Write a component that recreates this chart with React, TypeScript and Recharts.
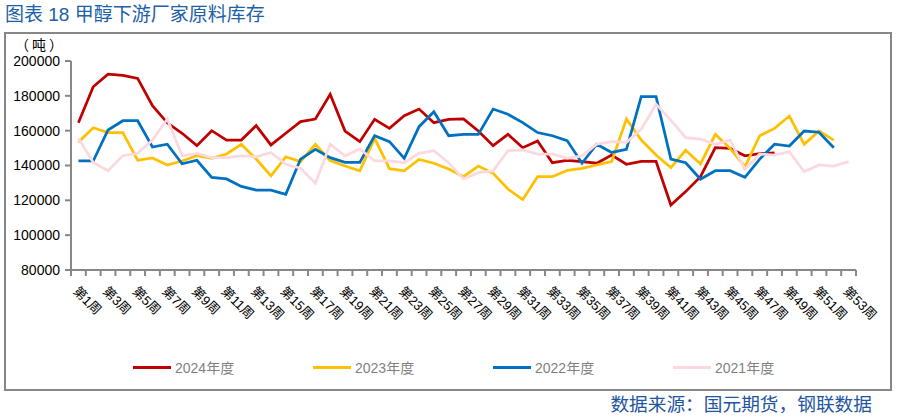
import React from "react";
import { LineChart, Line, XAxis, YAxis } from "recharts";

const weeks = Array.from({ length: 53 }, (_, i) => `第${i + 1}周`);

const inv2024 = [
  164500, 185200, 192400, 191800, 190000, 174300, 164500, 158500, 151400, 160000,
  154600, 154600, 162900, 151800, 158500, 165200, 166700, 180900, 159800, 153700,
  166500, 161300, 168600, 172400, 164600, 166500, 166700, 159800, 151400, 157900,
  150200, 154100, 141600, 143000, 142200, 141300, 146000, 140700, 142400, 142400,
  117300, 125000, 133600, 150200, 149800, 145600, 146800, 147200,
];

const inv2023 = [
  153300, 161700, 158900, 158900, 143000, 144300, 140300, 142600, 145600, 144100,
  146600, 152200, 143700, 134100, 145000, 142200, 152200, 142800, 139700, 137000,
  155600, 138200, 136900, 143500, 141300, 138000, 133600, 139700, 135500, 126500,
  120400, 133600, 133600, 137200, 138400, 140300, 142200, 166700, 154600, 146000,
  138800, 148700, 140900, 157900, 149800, 139300, 157100, 161300, 168400, 152200,
  159800, 154600,
];

const inv2022 = [
  142600, 142600, 160400, 165700, 165700, 150600, 152200, 141000, 143000, 133200,
  132300, 128000, 125900, 125900, 123500, 143700, 149300, 144500, 141800, 141800,
  157100, 153700, 144100, 162300, 170900, 157100, 157900, 157900, 172400, 169400,
  164600, 158900, 157100, 154300, 141300, 152200, 147500, 149300, 179500, 179500,
  143700, 141600, 132100, 137000, 137000, 133200, 143700, 152200, 151200, 159800,
  159100, 150200,
];

const inv2021 = [
  155600, 141800, 137000, 145600, 147000, 154600, 166700, 145600, 147000, 144500,
  144500, 145500, 145000, 147500, 140700, 138400, 129800, 152200, 145500, 149500,
  142600, 142600, 141600, 147000, 148500, 141600, 132300, 135900, 136900, 148500,
  148900, 146600, 146600, 144100, 145500, 152200, 153700, 153300, 160900, 175100,
  166100, 156000, 155100, 152200, 154600, 137800, 146600, 146000, 147900, 136400,
  140300, 139700, 142200,
];

const yTicks = [80000, 100000, 120000, 140000, 160000, 180000, 200000];

const series = [
  { key: "y2024", name: "2024年度", color: "#C00000" },
  { key: "y2023", name: "2023年度", color: "#FFC000" },
  { key: "y2022", name: "2022年度", color: "#0070C0" },
  { key: "y2021", name: "2021年度", color: "#FBD9DE" },
];

const rows = weeks.map((w, i) => ({
  idx: i + 1,
  week: w,
  y2024: inv2024[i] ?? null,
  y2023: inv2023[i] ?? null,
  y2022: inv2022[i] ?? null,
  y2021: inv2021[i] ?? null,
}));

// tick marks sit between weeks, labels on every other week
const boundaries = Array.from({ length: weeks.length + 1 }, (_, i) => i + 0.5);

const W = 898;
const H = 418;
const MARGIN = { top: 61, right: 42, left: 0, bottom: 88 };
const Y_AXIS_W = 71;
const PLOT_W = W - MARGIN.left - MARGIN.right - Y_AXIS_W;
const HALF_BAND = PLOT_W / weeks.length / 2;

const axisGray = "#878787";
const font = "'Liberation Sans', 'Noto Sans CJK SC', sans-serif";
const cjkFont = "'Noto Sans CJK SC', 'Liberation Sans', sans-serif";

function WeekTick(props: any) {
  const { x, payload } = props;
  const n = Math.round(payload.value + 0.5);
  if (n > weeks.length || n % 2 === 0) return null;
  const cx = x + HALF_BAND - 6;
  const cy = 292;
  return (
    <text
      x={cx}
      y={cy}
      transform={`rotate(45 ${cx} ${cy})`}
      textAnchor="start"
      fontSize={13}
      fontFamily={font}
      fill="#000"
    >
      {weeks[n - 1]}
    </text>
  );
}

export default function App() {
  return (
    <div
      style={{
        position: "absolute",
        left: 0,
        top: 0,
        width: W,
        height: H,
        background: "#fff",
        fontFamily: font,
      }}
    >
      <div
        style={{
          position: "absolute",
          left: 5,
          top: 3,
          fontSize: 19,
          lineHeight: "24px",
          color: "#2060A8",
          whiteSpace: "nowrap",
        }}
      >
        图表 18 甲醇下游厂家原料库存
      </div>

      <div
        style={{
          position: "absolute",
          left: 4,
          top: 32,
          width: 888,
          height: 359,
          border: `2px solid ${axisGray}`,
          boxSizing: "border-box",
        }}
      />

      <div
        style={{
          position: "absolute",
          left: 15,
          top: 36,
          fontSize: 14,
          lineHeight: "16px",
          letterSpacing: 3,
          color: "#000",
          fontFamily: cjkFont,
          whiteSpace: "nowrap",
        }}
      >
        （吨）
      </div>

      <div style={{ position: "absolute", left: 0, top: 0 }}>
        <LineChart width={W} height={H} data={rows} margin={MARGIN}>
          <XAxis
            dataKey="idx"
            type="number"
            domain={[0.5, weeks.length + 0.5]}
            ticks={boundaries}
            interval={0}
            height={60}
            axisLine={{ stroke: axisGray, strokeWidth: 2 }}
            tickLine={{ stroke: axisGray, strokeWidth: 2 }}
            tickSize={6}
            tick={<WeekTick />}
            allowDataOverflow
          />
          <YAxis
            type="number"
            domain={[80000, 200000]}
            ticks={yTicks}
            interval={0}
            width={Y_AXIS_W}
            axisLine={{ stroke: axisGray, strokeWidth: 2 }}
            tickLine={{ stroke: axisGray, strokeWidth: 2 }}
            tickSize={6}
            tickMargin={5}
            tick={{ fontSize: 14, fill: "#000", fontFamily: font }}
          />
          {series.map((s) => (
            <Line
              key={s.key}
              dataKey={s.key}
              name={s.name}
              type="linear"
              stroke={s.color}
              strokeWidth={2.75}
              dot={false}
              activeDot={false}
              isAnimationActive={false}
            />
          ))}
        </LineChart>
      </div>

      {series.map((s, i) => (
        <div
          key={s.key}
          style={{
            position: "absolute",
            left: 133 + i * 180,
            top: 358,
            height: 18,
            display: "flex",
            alignItems: "center",
            whiteSpace: "nowrap",
          }}
        >
          <span
            style={{
              display: "inline-block",
              width: 38,
              height: 3,
              background: s.color,
              marginRight: 4,
            }}
          />
          <span style={{ fontSize: 14, color: "#7F7F7F" }}>{s.name}</span>
        </div>
      ))}

      <div
        style={{
          position: "absolute",
          right: 26,
          top: 393,
          fontSize: 18.7,
          lineHeight: "20px",
          color: "#1F56A0",
          fontFamily: cjkFont,
          whiteSpace: "nowrap",
        }}
      >
        数据来源：国元期货，钢联数据
      </div>
    </div>
  );
}
